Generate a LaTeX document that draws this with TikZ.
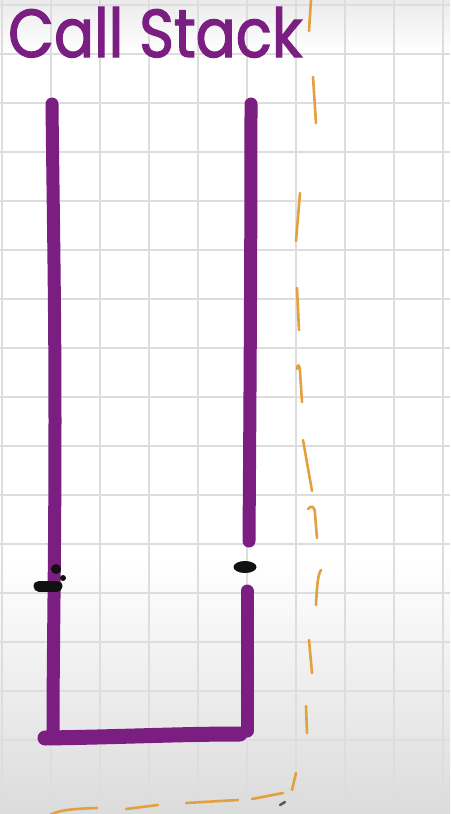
\documentclass[tikz,border=0pt]{standalone}
\usepackage{fontspec}
\newfontfamily\handfont[FakeBold=2]{Poppins}
\definecolor{stackpurple}{HTML}{7A1E82}
\definecolor{limitorange}{HTML}{E4A03E}
\definecolor{gridgrey}{HTML}{DDDDDD}
\definecolor{inkblack}{HTML}{111111}
\tikzset{
  gridline/.style={draw=gridgrey,line width=1.2pt},
  wall/.style={draw=stackpurple,line width=13pt,line cap=round,line join=round},
  floor/.style={draw=stackpurple,line width=15pt,line cap=round},
  limitdash/.style={draw=limitorange,line width=2.6pt,line cap=round},
  inkblob/.style={fill=inkblack},
  titletext/.style={text=stackpurple,inner sep=0pt,anchor=base west,
                    font=\handfont},
}

\begin{document}
\begin{tikzpicture}[x=1pt,y=-1pt]
  \useasboundingbox (0,0) rectangle (450,814);
  % paper
  \fill[white] (0,0) rectangle (450,814);
  \shade[top color=black!8,bottom color=white] (0,0) rectangle (450,52);
  \shade[top color=white,bottom color=black!14] (0,560) rectangle (450,814);
  \foreach \gx in {2,51,...,443} \draw[gridline] (\gx,0) -- (\gx,814);
  \foreach \gy in {5,54,...,789} \draw[gridline] (0,\gy) -- (450,\gy);

  % title
  \node[titletext] (title) at (8,57) {\resizebox{294pt}{50pt}{Call Stack}};

  % the stack: two walls and a floor, right wall broken near the bottom
  \draw[wall] (52,104) .. controls (53,200) and (55,300) .. (55,420)
              .. controls (55,560) and (53,650) .. (53,736);
  \draw[floor] (45,738) .. controls (120,737) and (180,734) .. (240,734);
  \draw[wall] (251,104) .. controls (251,250) and (250,400) .. (249,541);
  \draw[wall] (247,591) -- (247,731);

  % ink blots
  \draw[inkblack,line width=11pt,line cap=round] (39,586) -- (57,586);
  \fill[inkblob] (56,569) circle (5);
  \fill[inkblob] (63,578) circle (3);
  \fill[inkblob] (245,567) ellipse (11.5 and 6);
  \draw[inkblack!70,line width=2.5pt,line cap=round] (280,805) -- (285,802);

  % orange dashed limit
  \foreach \xa/\ya/\xb/\yb in {311/0/309/31, 313/77/316/123, 300/193/296/241,
      297/288/299/330, 303/440/312/491, 309/640/312/673, 306/706/307/733,
      296/773/292/790, 126/809/158/805, 186/803/238/800, 252/799/283/793}
    \draw[limitdash] (\xa,\ya) -- (\xb,\yb);
  \draw[limitdash] (297,369) .. controls (297,364) and (300,364) .. (300,372) -- (302,402);
  \draw[limitdash] (308,509) .. controls (311,505) and (315,506) .. (315,514) -- (317,538);
  \draw[limitdash] (321,570) .. controls (318,574) and (317,585) .. (316,605);
  \draw[limitdash] (50,815) .. controls (60,810) and (70,809) .. (97,808);
\end{tikzpicture}
\end{document}
